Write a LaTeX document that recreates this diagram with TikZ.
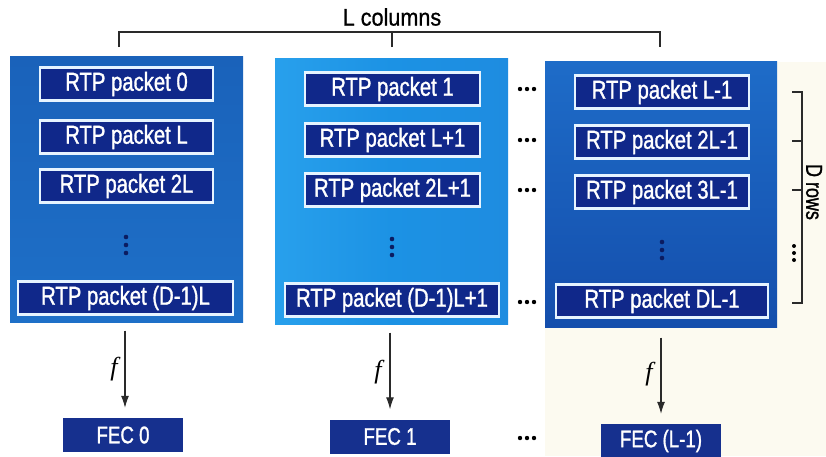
\documentclass[tikz,border=0pt]{standalone}
\usepackage{fontspec}
\setmainfont{Liberation Sans}[FakeStretch=0.78, FakeBold=1.2]
\newfontfamily\plainsans{Liberation Sans}[FakeStretch=0.9, FakeBold=0.8]
\newfontfamily\serifit{Liberation Serif}
\usetikzlibrary{arrows.meta}
\definecolor{navy}{HTML}{10288A}
\definecolor{fecnavy}{HTML}{16308E}
\definecolor{rim}{HTML}{E6F4FF}
\definecolor{cream}{HTML}{FCFAF0}
\definecolor{ink}{HTML}{2A2A2A}
\tikzset{
  panel/.style={minimum width=#1, minimum height=266pt, inner sep=0pt, draw=none},
  pkt/.style={fill=navy, draw=rim, line width=2.4pt, text=white, minimum width=#1,
    minimum height=33pt, inner sep=0pt, font=\fontsize{26}{27}\selectfont},
  fec/.style={fill=fecnavy, text=white, minimum width=120pt, minimum height=34pt,
    inner sep=0pt, font=\fontsize{24}{25}\selectfont},
  arr/.style={draw=ink, line width=1.1pt, -{Latex[length=12pt,width=8pt]}},
  brk/.style={draw=ink, line width=1.1pt},
  flab/.style={font=\serifit\itshape\fontsize{26}{27}\selectfont, text=black},
  hdot/.style={fill=black},
  vdot/.style={fill=navy!70!black},
}
\begin{document}
\begin{tikzpicture}[x=1pt,y=-1pt]
\useasboundingbox (0,0) rectangle (826,456);
\fill[white] (0,0) rectangle (826,456);
\fill[cream] (545,62) rectangle (826,456);

% panels
\node[panel=233pt, top color={rgb,255:red,26;green,98;blue,186}, bottom color={rgb,255:red,30;green,112;blue,200}] (p1) at (126.5,189.5) {};
\node[panel=233pt, left color={rgb,255:red,40;green,160;blue,236}, right color={rgb,255:red,30;green,140;blue,224}, middle color={rgb,255:red,28;green,146;blue,228}] (p2) at (391.5,191.5) {};
\node[panel=232pt, top color={rgb,255:red,30;green,108;blue,200}, bottom color={rgb,255:red,20;green,78;blue,172}] (p3) at (661,194.5) {};

% column 1
\node[pkt=173pt] (a0) at (126.5,84) {RTP packet 0};
\node[pkt=173pt] (a1) at (126.5,137) {RTP packet L};
\node[pkt=173pt] (a2) at (126.5,186) {RTP packet 2L};
\node[pkt=215pt] (a3) at (125.5,298) {RTP packet (D-1)L};
% column 2
\node[pkt=175pt] (b0) at (392.5,89) {RTP packet 1};
\node[pkt=175pt] (b1) at (392.5,140) {RTP packet L+1};
\node[pkt=175pt] (b2) at (392.5,190) {RTP packet 2L+1};
\node[pkt=214pt] (b3) at (392,300) {RTP packet (D-1)L+1};
% column 3
\node[pkt=174pt] (c0) at (662,92) {RTP packet L-1};
\node[pkt=174pt] (c1) at (662,142) {RTP packet 2L-1};
\node[pkt=174pt] (c2) at (662,192) {RTP packet 3L-1};
\node[pkt=212pt] (c3) at (662,301) {RTP packet DL-1};

% vertical dots inside panels
\foreach \x/\y in {126/245, 392/247, 662/250} {
  \foreach \d in {-8,0,8} \fill[vdot] (\x,\y+\d) circle (2.3pt);
}
% horizontal dots between columns 2 and 3
\foreach \y in {89,140,190,302,438} {
  \foreach \d in {-7,0,7} \fill[hdot] (527+\d,\y) circle (2.2pt);
}

% FEC boxes
\node[fec] (f0) at (123,435) {FEC 0};
\node[fec] (f1) at (390,436.5) {FEC 1};
\node[fec] (f2) at (661,441) {FEC (L-1)};

% arrows
\draw[arr, shorten <=8pt, shorten >=10pt] (p1.south -| f0.north) ++(2,0) coordinate (s0) -- (s0 |- f0.north);
\draw[arr, shorten <=8pt, shorten >=10pt] (p2.south -| f1.north) coordinate (s1) -- (f1.north);
\draw[arr, shorten <=10pt, shorten >=10pt] (p3.south -| f2.north) coordinate (s2) -- (f2.north);
\node[flab] (fl0) at (114,369) {f};
\node[flab] (fl1) at (378,372) {f};
\node[flab] (fl2) at (649,374) {f};

% L columns bracket
\coordinate (lL) at (119,47);
\coordinate (lM) at (392,47);
\coordinate (lR) at (660,47);
\draw[brk] (lL) -- (119,32) -- (660,32) -- (lR);
\draw[brk] (lM) -- (392,32);
\node[font=\plainsans\fontsize{24}{25}\selectfont] (lcol) at (392,17) {L columns};

% D rows bracket
\draw[brk] (792,92) -- (802,92) -- (802,303) -- (792,303);
\draw[brk] (792,141) -- (802,141);
\draw[brk] (792,190) -- (802,190);
\foreach \d in {-7,0,7} \fill[hdot] (794,253+\d) circle (2pt);
\node[rotate=-90, inner sep=0pt, font=\fontsize{23}{24}\selectfont] (drows) at (814,192) {D rows};
\end{tikzpicture}
\end{document}
